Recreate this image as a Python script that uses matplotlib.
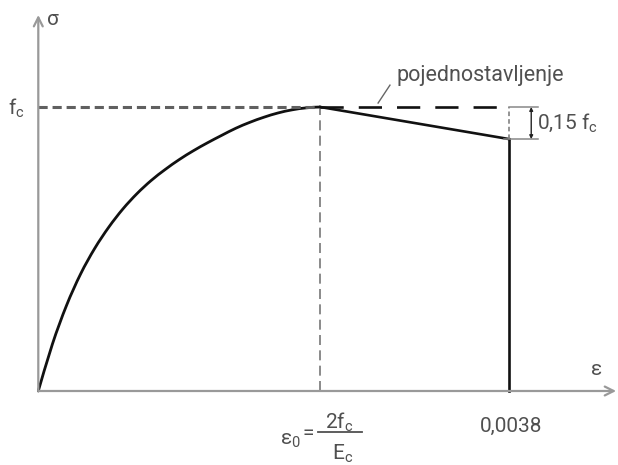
import matplotlib
matplotlib.use("Agg")
import matplotlib.pyplot as plt
from matplotlib.path import Path
from matplotlib.patches import PathPatch

# ---- data (normalised: strain / eps0, stress / fc) ----
eps_curve = [0.00, 0.05, 0.10, 0.15, 0.20, 0.25, 0.30, 0.35, 0.40, 0.45, 0.50,
             0.55, 0.60, 0.65, 0.70, 0.75, 0.80, 0.85, 0.90, 0.95, 1.00]
sig_curve = [0.000, 0.165, 0.301, 0.412, 0.502, 0.577, 0.641, 0.695, 0.741,
             0.780, 0.815, 0.846, 0.874, 0.900, 0.925, 0.946, 0.964, 0.979,
             0.990, 0.997, 1.000]
eps0 = 1.0          # peak strain position
fc = 1.0            # peak stress
eps_cu = 1.67       # ultimate strain position (0,0038)
sig_cu = 0.887      # stress at ultimate strain
eps_simpl_end = 1.638

label_eps_cu = "0,0038"
label_simpl = "pojednostavljenje"
label_drop = r"0,15 f$_\mathregular{c}$"
label_fc = r"f$_\mathregular{c}$"

TXT = "#505050"
AX = "#999999"
plt.rcParams["font.family"] = ["Roboto", "DejaVu Sans"]
plt.rcParams["mathtext.fontset"] = "custom"
plt.rcParams["mathtext.rm"] = "Roboto"
plt.rcParams["mathtext.it"] = "Roboto"
plt.rcParams["mathtext.default"] = "regular"

fig = plt.figure(figsize=(6.18, 4.65), dpi=100)
ax = fig.add_axes([0, 0, 1, 1])
ax.set_xlim(-0.1358, 2.0557)
ax.set_ylim(-0.2606, 1.3768)
ax.axis("off")

# axes with arrows
ax.annotate("", xy=(2.049, 0), xytext=(0, 0),
            arrowprops=dict(arrowstyle="->", color=AX, lw=1.6, mutation_scale=16,
                            shrinkA=0, shrinkB=0))
ax.annotate("", xy=(0, 1.324), xytext=(0, 0),
            arrowprops=dict(arrowstyle="->", color=AX, lw=1.6, mutation_scale=16,
                            shrinkA=0, shrinkB=0))

# fc dashed guide (grey, left part)
ax.plot([0, eps0], [fc, fc], color="#606060", lw=2.2, dashes=(3, 1.6))
# eps0 vertical dashed guide
ax.plot([eps0, eps0], [0, fc], color="#777777", lw=1.2, dashes=(6, 3.2))

# simplification dashed (black)
ax.plot([eps0, eps_simpl_end], [fc, fc], color="#111111", lw=1.9, dashes=(8.8, 5.7))

# main curve: smooth Catmull-Rom rendering through the read points
pts = list(zip(eps_curve, sig_curve))
verts = [pts[0]]
codes = [Path.MOVETO]
n = len(pts)
for i in range(n - 1):
    p0 = pts[i - 1] if i > 0 else pts[i]
    p1 = pts[i]
    p2 = pts[i + 1]
    p3 = pts[i + 2] if i + 2 < n else (p2[0] + (p2[0] - p1[0]), p2[1])
    c1 = (p1[0] + (p2[0] - p0[0]) / 6, p1[1] + (p2[1] - p0[1]) / 6)
    c2 = (p2[0] - (p3[0] - p1[0]) / 6, p2[1] - (p3[1] - p1[1]) / 6)
    verts += [c1, c2, p2]
    codes += [Path.CURVE4] * 3
ax.add_patch(PathPatch(Path(verts, codes), facecolor="none", edgecolor="#111111",
                       lw=2.0, capstyle="round", joinstyle="round"))

# descending branch
ax.plot([eps0, eps_cu], [fc, sig_cu], color="#111111", lw=1.9)
# ultimate vertical
ax.plot([eps_cu, eps_cu], [0, sig_cu], color="#111111", lw=1.9)

# bracket for 0.15 fc
ax.plot([eps_cu, eps_cu], [sig_cu, fc], color="#777777", lw=1.1, dashes=(3, 2))
ax.plot([eps_cu, 1.773], [fc, fc], color="#888888", lw=1.1)
ax.plot([1.65, 1.773], [sig_cu, sig_cu], color="#888888", lw=1.1)
ax.annotate("", xy=(1.748, fc), xytext=(1.748, sig_cu),
            arrowprops=dict(arrowstyle="<|-|>", color="#222222", lw=1.0,
                            mutation_scale=5, shrinkA=0, shrinkB=0))

# leader line
ax.plot([1.247, 1.205], [1.077, 1.014], color="#666666", lw=1.0)

# texts
fs = 15
ax.text(0.031, 1.289, "σ", color=TXT, fontsize=fs, ha="left", va="baseline")
ax.text(-0.107, 0.972, label_fc, color=TXT, fontsize=fs, ha="left", va="baseline")
ax.text(1.981, 0.056, "ε", color=TXT, fontsize=fs, ha="center", va="baseline")
ax.text(1.676, -0.144, label_eps_cu, color=TXT, fontsize=fs, ha="center", va="baseline")
ax.text(1.272, 1.092, label_simpl, color=TXT, fontsize=15.5, ha="left", va="baseline")
ax.text(1.768, 0.923, label_drop, color=TXT, fontsize=fs, ha="left", va="baseline")

# eps0 = 2fc / Ec
ax.text(0.857, -0.190, r"ε$_\mathregular{0}$", color=TXT, fontsize=fs,
        ha="left", va="baseline")
ax.text(0.958, -0.150, "=", color=TXT, fontsize=fs, ha="center", va="center")
ax.plot([0.992, 1.148], [-0.144, -0.144], color=TXT, lw=1.3)
ax.text(1.017, -0.134, r"2f$_\mathregular{c}$", color=TXT, fontsize=fs,
        ha="left", va="baseline")
ax.text(1.041, -0.242, r"E$_\mathregular{c}$", color=TXT, fontsize=fs,
        ha="left", va="baseline")

fig.savefig("out.png", dpi=100)
